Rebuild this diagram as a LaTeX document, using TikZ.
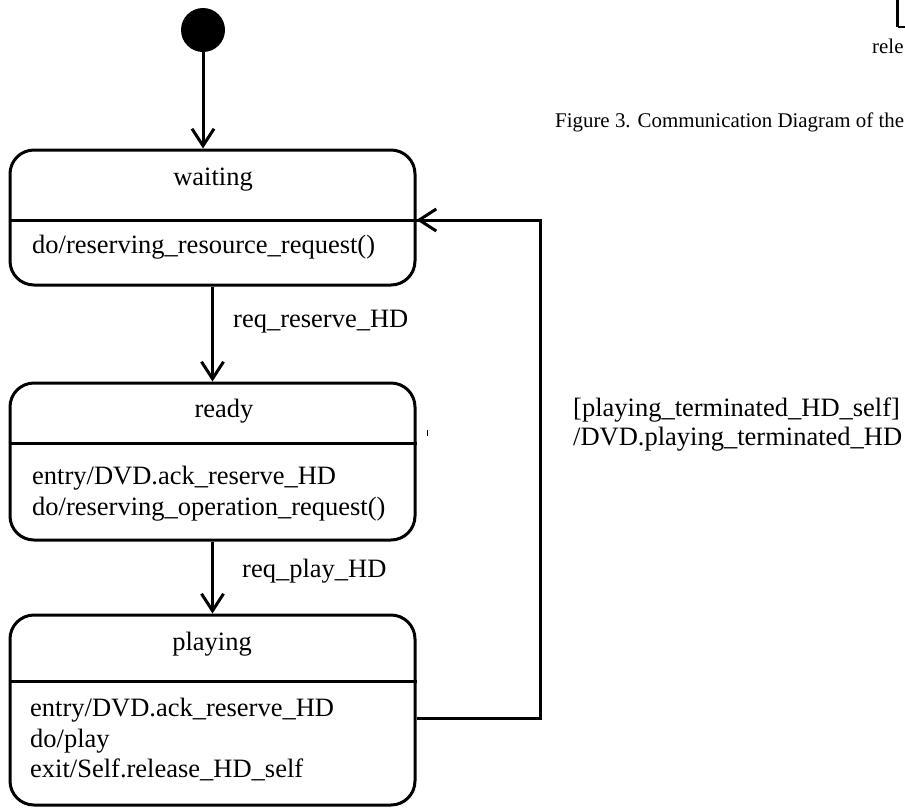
\documentclass[tikz,border=0pt]{standalone}
\usepackage{fontspec}
\setmainfont{Liberation Serif}
\usetikzlibrary{arrows.meta}

\tikzset{
  statebox/.style={draw, line width=3pt, rounded corners=24pt, inner sep=0pt},
  divider/.style={line width=3pt},
  trans/.style={line width=3pt, -{Straight Barb[length=17pt,width=22pt,line width=3pt]}},
  loopline/.style={line width=3pt, line join=miter},
  big/.style={inner sep=0pt, font=\fontsize{26.5}{30}\selectfont},
  small/.style={inner sep=0pt, font=\fontsize{20.9}{24}\selectfont},
}

\begin{document}
\begin{tikzpicture}[x=1pt, y=-1pt]
  \useasboundingbox (0,0) rectangle (905,807);
  \clip (0,0) rectangle (905,807);

  % fragments of the neighbouring figure
  \draw[line width=3pt] (897.5,0) -- (897.5,27) coordinate (brk);
  \draw[line width=2pt] (brk) -- (910,27);
  \node[small, anchor=base west] (relLabel) at (872,53) {rele};
  \node[small, anchor=base west] (caption) at (555,127) {Figure 3. Communication Diagram of the};

  % initial pseudo-state
  \node[circle, fill=black, minimum size=44pt, inner sep=0pt] (init) at (203,30) {};

  % states
  \node[statebox, minimum width=405pt, minimum height=135pt] (waiting) at (212.5,217.5) {};
  \node[statebox, minimum width=405pt, minimum height=157pt] (ready) at (212.5,461.5) {};
  \node[statebox, minimum width=405pt, minimum height=190pt] (playing) at (212.5,710) {};

  % compartment dividers
  \draw[divider] (waiting.west |- 0,220) -- (waiting.east |- 0,220);
  \draw[divider] (ready.west |- 0,443) -- (ready.east |- 0,443);
  \draw[divider] (playing.west |- 0,681) -- (playing.east |- 0,681);

  % state names
  \node[big, anchor=base] (wName) at (213,185) {waiting};
  \node[big, anchor=base] (rName) at (224,417) {ready};
  \node[big, anchor=base] (pName) at (212,650) {playing};

  % internal activities
  \node[big, anchor=base west] (wAct) at (32,253) {do/reserving\_resource\_request()};
  \node[big, anchor=base west] (rAct1) at (32,484) {entry/DVD.ack\_reserve\_HD};
  \node[big, anchor=base west] (rAct2) at (32,515) {do/reserving\_operation\_request()};
  \node[big, anchor=base west] (pAct1) at (30,716) {entry/DVD.ack\_reserve\_HD};
  \node[big, anchor=base west] (pAct2) at (30,747) {do/play};
  \node[big, anchor=base west] (pAct3) at (30,777) {exit/Self.release\_HD\_self};

  % transitions
  \draw[trans] (init) -- (init |- waiting.north);
  \draw[trans] (waiting.south) -- (ready.north);
  \draw[trans] (ready.south) -- (playing.north);

  \coordinate (loopStart) at (playing.east |- 0,718);
  \coordinate (loopLow) at (540,718);
  \coordinate (loopHigh) at (540,220);
  \coordinate (loopEnd) at (waiting.east |- 0,220);
  \draw[loopline] (loopStart) -- (loopLow) -- (loopHigh) -- (loopEnd);
  \draw[trans] (loopHigh) -- (loopEnd);

  % transition labels
  \node[big, anchor=base west] (lblReserve) at (233,327) {req\_reserve\_HD};
  \node[big, anchor=base west] (lblPlay) at (242,577) {req\_play\_HD};
  \node[big, anchor=base west] (lblGuard) at (573,416) {[playing\_terminated\_HD\_self]};
  \node[big, anchor=base west] (lblEffect) at (573,445) {/DVD.playing\_terminated\_HD};

  % small stray mark beside the ready state
  \draw[line width=1pt] (427,430) -- (427,436);
\end{tikzpicture}
\end{document}
